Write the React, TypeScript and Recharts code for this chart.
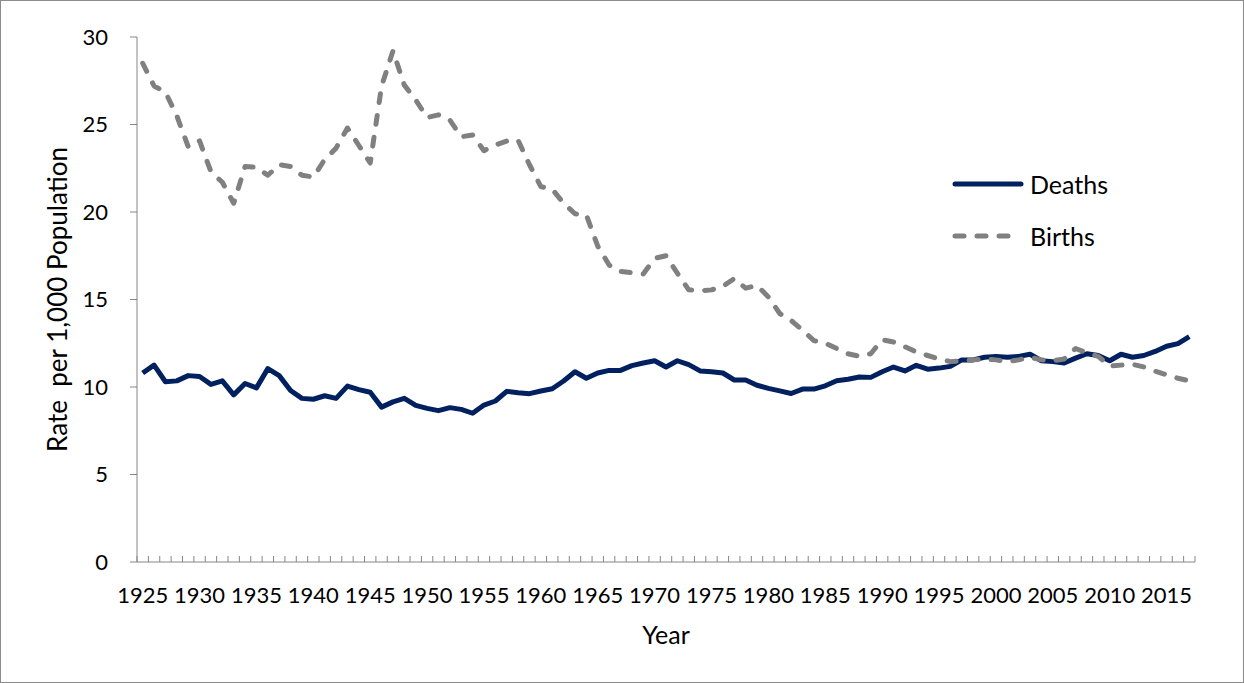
import { LineChart, Line, XAxis, YAxis, Legend, Label } from "recharts"

const years = [
	1925, 1926, 1927, 1928, 1929, 1930, 1931, 1932, 1933, 1934, 1935, 1936, 1937, 1938, 1939,
	1940, 1941, 1942, 1943, 1944, 1945, 1946, 1947, 1948, 1949, 1950, 1951, 1952, 1953, 1954,
	1955, 1956, 1957, 1958, 1959, 1960, 1961, 1962, 1963, 1964, 1965, 1966, 1967, 1968, 1969,
	1970, 1971, 1972, 1973, 1974, 1975, 1976, 1977, 1978, 1979, 1980, 1981, 1982, 1983, 1984,
	1985, 1986, 1987, 1988, 1989, 1990, 1991, 1992, 1993, 1994, 1995, 1996, 1997, 1998, 1999,
	2000, 2001, 2002, 2003, 2004, 2005, 2006, 2007, 2008, 2009, 2010, 2011, 2012, 2013, 2014,
	2015, 2016, 2017,
]

const deaths = [
	10.8, 11.25, 10.3, 10.35, 10.65, 10.6, 10.15, 10.35, 9.55, 10.2, 9.95, 11.05, 10.65, 9.8, 9.35,
	9.3, 9.5, 9.35, 10.05, 9.85, 9.7, 8.85, 9.15, 9.35, 8.95, 8.78, 8.65, 8.82, 8.72, 8.5,
	8.97, 9.2, 9.75, 9.67, 9.62, 9.77, 9.9, 10.34, 10.87, 10.5, 10.8, 10.95, 10.95, 11.22, 11.37,
	11.5, 11.14, 11.5, 11.28, 10.92, 10.87, 10.8, 10.4, 10.4, 10.1, 9.92, 9.78, 9.63, 9.88, 9.88,
	10.07, 10.36, 10.44, 10.57, 10.55, 10.87, 11.14, 10.92, 11.24, 11.02, 11.08, 11.18, 11.55, 11.55, 11.7,
	11.75, 11.7, 11.75, 11.87, 11.5, 11.45, 11.37, 11.65, 11.9, 11.8, 11.5, 11.87, 11.7, 11.8, 12.03,
	12.33, 12.48, 12.88,
]

const births = [
	28.5, 27.2, 26.85, 25.5, 23.73, 24.06, 22.3, 21.7, 20.5, 22.6, 22.55, 22.1, 22.7, 22.6, 22.1,
	22.0, 23.0, 23.65, 24.8, 23.8, 22.8, 27.2, 29.2, 27.25, 26.4, 25.4, 25.55, 25.25, 24.3, 24.4,
	23.5, 23.83, 24.05, 24.1, 22.7, 21.45, 21.3, 20.5, 19.9, 19.83, 18.05, 16.97, 16.6, 16.53, 16.46,
	17.35, 17.5, 16.5, 15.55, 15.5, 15.55, 15.75, 16.2, 15.65, 15.8, 15.15, 14.2, 13.8, 13.25, 12.65,
	12.5, 12.2, 11.9, 11.75, 11.9, 12.7, 12.57, 12.3, 12.0, 11.8, 11.6, 11.45, 11.5, 11.55, 11.6,
	11.55, 11.45, 11.55, 11.7, 11.55, 11.5, 11.6, 12.2, 11.95, 11.75, 11.2, 11.25, 11.3, 11.15, 10.9,
	10.7, 10.5, 10.35,
]

const yTicks = [0, 5, 10, 15, 20, 25, 30]
const legendOrder = ["Deaths", "Births"]

const data = years.map((year, i) => ({ year, deaths: deaths[i], births: births[i] }))

// labels every 5th year, tick marks sit between the years (Excel style)
const yearLabels = years.filter((y) => y % 5 === 0)
const yearEdges = [...years.map((y) => y - 0.5), years[years.length - 1] + 0.5]
const xDomain = [years[0] - 0.5, years[years.length - 1] + 0.5]

const axisGrey = "#868686"
const font = "Lato, 'Open Sans', sans-serif"
const dashes = { Deaths: undefined, Births: "9 13" }

function NoLabel() {
	return <g />
}

function YTitle(props) {
	const vb = props.viewBox || { x: 0, y: 0, width: 0, height: 0 }
	const cx = vb.x + 57
	const cy = vb.y + vb.height / 2
	return (
		<text
			x={cx}
			y={cy}
			transform={`rotate(-90, ${cx}, ${cy})`}
			textAnchor="middle"
			dominantBaseline="central"
			fill="#000"
			fontSize={26}
			style={{ whiteSpace: "pre" }}
		>
			{"Rate  per 1,000 Population"}
		</text>
	)
}

function LegendBox(props) {
	const payload = props.payload || []
	const entries = legendOrder
		.map((name) => payload.find((p) => p.value === name))
		.filter(Boolean)
	return (
		<div style={{ fontFamily: font }}>
			{entries.map((entry) => (
				<div
					key={entry.value}
					style={{ display: "flex", alignItems: "center", height: 52 }}
				>
					<svg width={80} height={20} style={{ display: "block" }}>
						<line
							x1={5}
							y1={10}
							x2={71}
							y2={10}
							stroke={entry.color}
							strokeWidth={5}
							strokeLinecap="round"
							strokeDasharray={dashes[entry.value]}
						/>
					</svg>
					<span style={{ fontSize: 25, color: "#000", lineHeight: "26px" }}>
						{entry.value}
					</span>
				</div>
			))}
		</div>
	)
}

export default function App() {
	return (
		<div
			style={{
				position: "absolute",
				left: 0,
				top: 0,
				width: 1244,
				height: 683,
				background: "#fff",
				fontFamily: font,
			}}
		>
			<LineChart
				width={1244}
				height={683}
				data={data}
				margin={{ top: 37, right: 49, bottom: 61, left: 0 }}
			>
				<XAxis
					xAxisId="axisA"
					dataKey="year"
					type="number"
					domain={xDomain}
					ticks={yearEdges}
					interval={0}
					tick={NoLabel}
					height={1}
					tickSize={-6}
					tickMargin={0}
					stroke={axisGrey}
					allowDataOverflow
				/>
				<XAxis
					xAxisId="axisB"
					dataKey="year"
					type="number"
					domain={xDomain}
					ticks={yearLabels}
					interval={0}
					height={59}
					tickLine={false}
					axisLine={false}
					tickSize={6}
					tickMargin={18}
					tick={{ fill: "#000", fontSize: 22 }}
					allowDataOverflow
				>
					<Label value="Year" position="bottom" offset={4} fill="#000" fontSize={25} />
				</XAxis>
				<YAxis
					domain={[0, 30]}
					ticks={yTicks}
					interval={0}
					width={137}
					tickSize={7}
					tickMargin={22}
					stroke={axisGrey}
					tick={{ fill: "#000", fontSize: 22 }}
					allowDataOverflow
				>
					<Label content={YTitle} />
				</YAxis>
				<Legend
					layout="vertical"
					align="center"
					verticalAlign="middle"
					wrapperStyle={{ left: 950, top: 158, width: 220 }}
					content={LegendBox}
				/>
				<Line
					xAxisId="axisA"
					name="Deaths"
					dataKey="deaths"
					type="linear"
					stroke="#002060"
					strokeWidth={5}
					strokeLinejoin="round"
					dot={false}
					activeDot={false}
					isAnimationActive={false}
				/>
				<Line
					xAxisId="axisA"
					name="Births"
					dataKey="births"
					type="linear"
					stroke="#808080"
					strokeWidth={5}
					strokeDasharray="9 13"
					strokeLinecap="round"
					strokeLinejoin="round"
					dot={false}
					activeDot={false}
					isAnimationActive={false}
				/>
			</LineChart>
			<div
				style={{
					position: "absolute",
					left: 0,
					top: 0,
					width: 1244,
					height: 683,
					boxSizing: "border-box",
					border: "1px solid #8c8c8c",
					pointerEvents: "none",
				}}
			/>
		</div>
	)
}
